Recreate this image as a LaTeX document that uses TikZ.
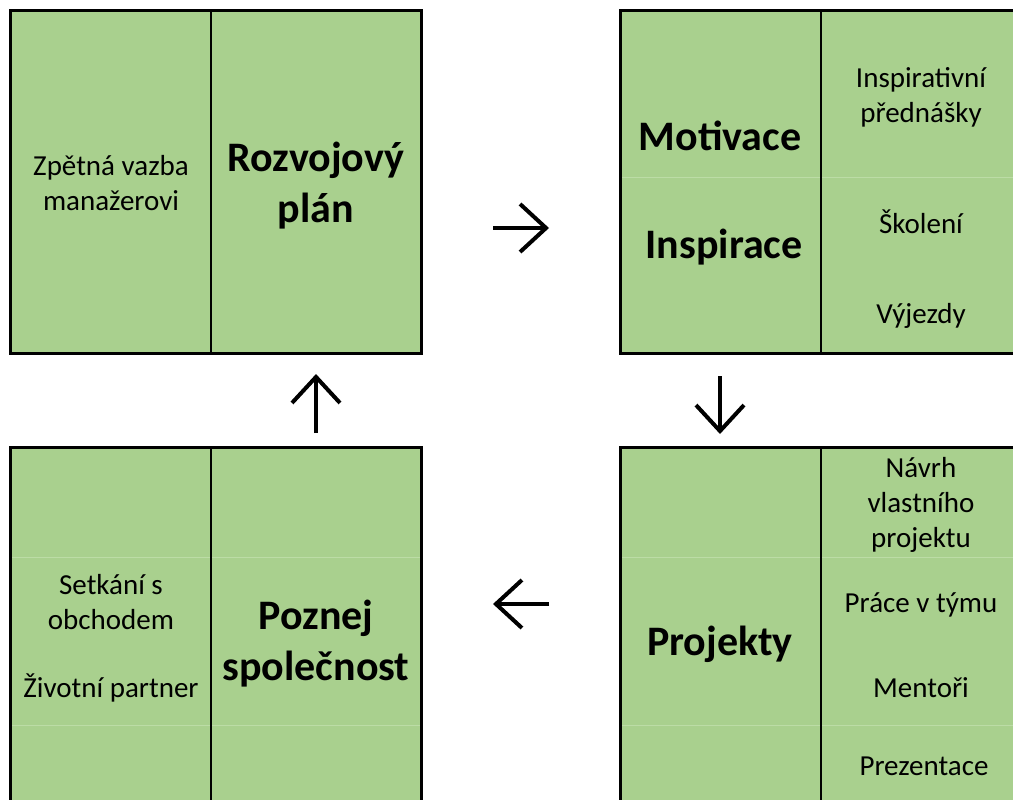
\documentclass[tikz,border=0pt]{standalone}
\usepackage{fontspec}
\setmainfont{Carlito}
\usetikzlibrary{arrows.meta}
\definecolor{boxgreen}{HTML}{A9D08E}
\definecolor{faintline}{HTML}{BCDCA6}
\begin{document}
\begin{tikzpicture}[x=1pt,y=-1pt,
  panel/.style={fill=boxgreen, rectangle, inner sep=0pt, outer sep=0pt, anchor=north west},
  frame/.style={draw=black, line width=3pt},
  divider/.style={draw=black, line width=1.3pt},
  faint/.style={draw=faintline, line width=1pt},
  small/.style={font=\fontsize{29}{35}\selectfont, align=center, inner sep=0pt, anchor=base},
  big/.style={font=\fontsize{42}{51}\selectfont\bfseries, align=center, inner sep=0pt, anchor=base},
  flow/.style={line width=4pt, -{Straight Barb[length=26pt,width=48pt]}}
]
\useasboundingbox (0,0) rectangle (1013,800);
\clip (0,0) rectangle (1013,800);

% panels
\node[panel, minimum width=411pt, minimum height=342pt] (tl) at (10,11) {};
\node[panel, minimum width=420pt, minimum height=342pt] (tr) at (620,11) {};
\node[panel, minimum width=411pt, minimum height=380pt] (bl) at (10,447) {};
\node[panel, minimum width=420pt, minimum height=380pt] (br) at (620,447) {};

% faint row lines
\draw[faint] (620,177) -- (1040,177);
\draw[faint] (10,557) -- (421,557);
\draw[faint] (10,725) -- (421,725);
\draw[faint] (620,557) -- (1040,557);
\draw[faint] (620,725) -- (1040,725);

% dividers
\draw[divider] (211,11) -- (211,353);
\draw[divider] (821,11) -- (821,353);
\draw[divider] (211,447) -- (211,830);
\draw[divider] (821,447) -- (821,830);

% frames
\draw[frame] (tl.north west) rectangle (tl.south east);
\draw[frame] (tr.north west) rectangle (tr.south east);
\draw[frame] (bl.north west) rectangle (bl.south east);
\draw[frame] (br.north west) rectangle (br.south east);

% texts (anchor=base of a multi-line node = baseline of its last line)
\node[small] (fb) at (111,210) {Zpětná vazba\\manažerovi};
\node[big] (rp) at (316,222) {Rozvojový\\plán};
\node[big] (mo) at (720,150) {Motivace};
\node[big] (in) at (724,258) {Inspirace};
\node[small] (ip) at (921,122) {Inspirativní\\přednášky};
\node[small] (sk) at (921,233) {Školení};
\node[small] (vy) at (921,323) {Výjezdy};
\node[small] (so) at (111,629) {Setkání s\\obchodem};
\node[small] (zp) at (111,697) {Životní partner};
\node[big] (ps) at (316,680) {Poznej\\společnost};
\node[big] (pr) at (720,655) {Projekty};
\node[small] (nv) at (921,547) {Návrh\\vlastního\\projektu};
\node[small] (pt) at (921,612) {Práce v týmu};
\node[small] (me) at (921,697) {Mentoři};
\node[small] (pz) at (924,775) {Prezentace};

% arrows
\coordinate (ra1) at (493,228); \coordinate (ra2) at (549,228);
\coordinate (da1) at (720,376); \coordinate (da2) at (720,434);
\coordinate (la1) at (549,604); \coordinate (la2) at (493,604);
\coordinate (ua1) at (316,433); \coordinate (ua2) at (316,374);
\draw[flow] (ra1) -- (ra2);
\draw[flow] (da1) -- (da2);
\draw[flow] (la1) -- (la2);
\draw[flow] (ua1) -- (ua2);
\end{tikzpicture}
\end{document}
